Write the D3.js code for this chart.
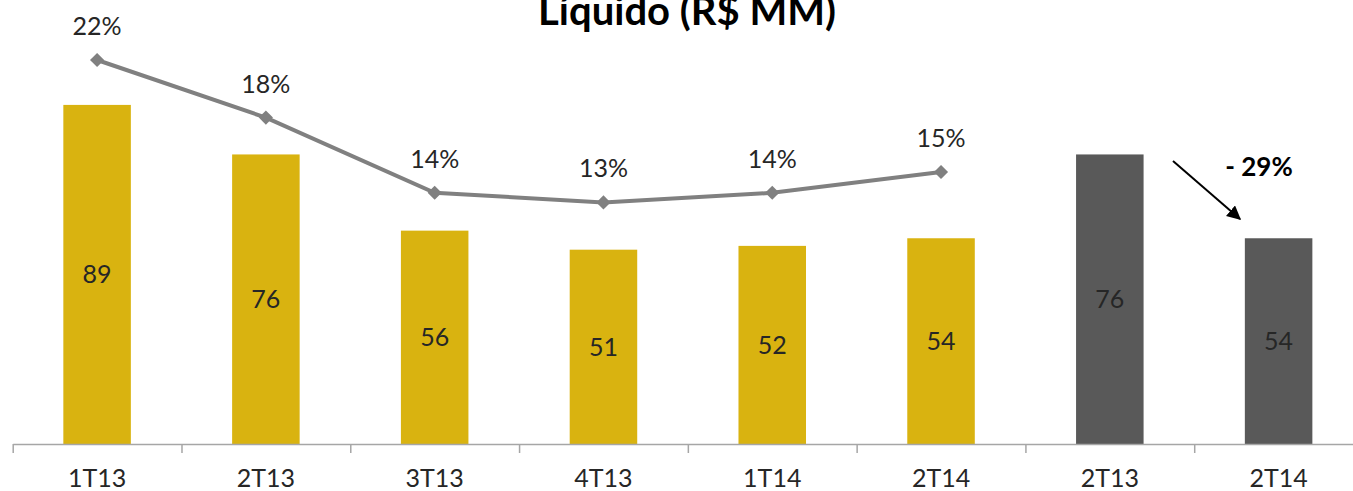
<!DOCTYPE html>
<html lang="pt">
<head>
    <meta charset="UTF-8">
    <title>Lucro Líquido (R$ MM)</title>
    <script src="https://d3js.org/d3.v7.min.js"></script>
    <style>
        body {
            margin: 0;
            background: #ffffff;
            font-family: 'Lato', 'Open Sans', sans-serif;
            overflow: hidden;
        }
        .bar-label, .pct-label, .x-label { fill: #262626; }
        .title { font-weight: bold; fill: #000; }
    </style>
</head>
<body>
    <svg id="chart"></svg>

    <script>
        // dados do gráfico
        const categories = ["1T13", "2T13", "3T13", "4T13", "1T14", "2T14", "2T13", "2T14"];
        const lucro = [89, 76, 56, 51, 52, 54, 76, 54];
        const barColors = ["#d9b310", "#d9b310", "#d9b310", "#d9b310", "#d9b310", "#d9b310", "#595959", "#595959"];
        const margem = [22.0, 18.4, 13.7, 13.1, 13.7, 15.0];   // só os 6 primeiros trimestres
        const variacao = "- 29%";
        const titulo = "Líquido (R$ MM)";

        const width = 1353;
        const height = 491;
        const baseY = 444;

        const svg = d3.select("#chart")
            .attr("width", width)
            .attr("height", height);

        const x = d3.scaleBand()
            .domain(d3.range(categories.length))
            .range([12.7, 1363])
            .paddingInner(0.6)
            .paddingOuter(0.3);

        const y = d3.scaleLinear()
            .domain([0, 100])
            .range([baseY, 63]);

        // eixo secundário para a margem (%)
        const y2 = d3.scaleLinear()
            .domain([0, 25])
            .range([412, 12]);

        // título (cortado no topo, como na imagem)
        svg.append("text")
            .attr("class", "title")
            .attr("x", 687)
            .attr("y", 25)
            .attr("text-anchor", "middle")
            .style("font-size", "40px")
            .text(titulo);

        // barras
        svg.selectAll(".bar")
            .data(lucro)
            .enter()
            .append("rect")
            .attr("class", "bar")
            .attr("x", (d, i) => x(i))
            .attr("y", d => y(d))
            .attr("width", x.bandwidth())
            .attr("height", d => baseY - y(d))
            .attr("fill", (d, i) => barColors[i]);

        svg.selectAll(".bar-label")
            .data(lucro)
            .enter()
            .append("text")
            .attr("class", "bar-label")
            .attr("x", (d, i) => x(i) + x.bandwidth() / 2)
            .attr("y", d => (y(d) + baseY) / 2)
            .attr("dy", "0.35em")
            .attr("text-anchor", "middle")
            .style("font-size", "25px")
            .text(d => d);

        // eixo x: linha + marcas nos limites das categorias
        const xEdges = d3.scaleLinear()
            .domain([0, categories.length])
            .range([12.7, 1363]);

        const axisG = svg.append("g")
            .attr("transform", `translate(0,${baseY})`)
            .call(d3.axisBottom(xEdges).ticks(categories.length).tickSize(9).tickSizeOuter(0).tickFormat(""));
        axisG.select(".domain").attr("stroke", "#a6a6a6").attr("stroke-width", 1.5);
        axisG.selectAll(".tick line").attr("stroke", "#a6a6a6").attr("stroke-width", 1.5);

        const labelG = svg.append("g")
            .attr("transform", `translate(0,${baseY})`)
            .call(d3.axisBottom(x).tickSize(0).tickPadding(0).tickFormat(i => categories[i]));
        labelG.select(".domain").remove();
        labelG.selectAll("text")
            .attr("class", "x-label")
            .attr("y", 43)
            .attr("dy", 0)
            .attr("fill", "#262626")
            .style("font-size", "25px")
            .style("font-family", "Lato, 'Open Sans', sans-serif");

        // linha da margem
        const line = d3.line()
            .x((d, i) => x(i) + x.bandwidth() / 2)
            .y(d => y2(d));

        svg.append("path")
            .datum(margem)
            .attr("fill", "none")
            .attr("stroke", "#808080")
            .attr("stroke-width", 4)
            .attr("d", line);

        svg.selectAll(".marker")
            .data(margem)
            .enter()
            .append("path")
            .attr("class", "marker")
            .attr("transform", (d, i) => `translate(${x(i) + x.bandwidth() / 2},${y2(d)}) rotate(45)`)
            .attr("d", d3.symbol().type(d3.symbolSquare).size(100))
            .attr("fill", "#808080");

        svg.selectAll(".pct-label")
            .data(margem)
            .enter()
            .append("text")
            .attr("class", "pct-label")
            .attr("x", (d, i) => x(i) + x.bandwidth() / 2)
            .attr("y", d => y2(d) - 25)
            .attr("text-anchor", "middle")
            .style("font-size", "25px")
            .text(d => Math.round(d) + "%");

        // seta de variação
        svg.append("defs").append("marker")
            .attr("id", "arrow")
            .attr("viewBox", "0 0 10 10")
            .attr("refX", 9)
            .attr("refY", 5)
            .attr("markerWidth", 7)
            .attr("markerHeight", 7)
            .attr("orient", "auto")
            .append("path")
            .attr("d", "M0,0 L10,5 L0,10 z")
            .attr("fill", "#000");

        svg.append("line")
            .attr("x1", 1173)
            .attr("y1", 161)
            .attr("x2", 1240)
            .attr("y2", 219)
            .attr("stroke", "#000")
            .attr("stroke-width", 2)
            .attr("marker-end", "url(#arrow)");

        svg.append("text")
            .attr("x", 1259)
            .attr("y", 176)
            .attr("text-anchor", "middle")
            .style("font-size", "26px")
            .style("font-weight", "bold")
            .text(variacao);
    </script>
</body>
</html>
